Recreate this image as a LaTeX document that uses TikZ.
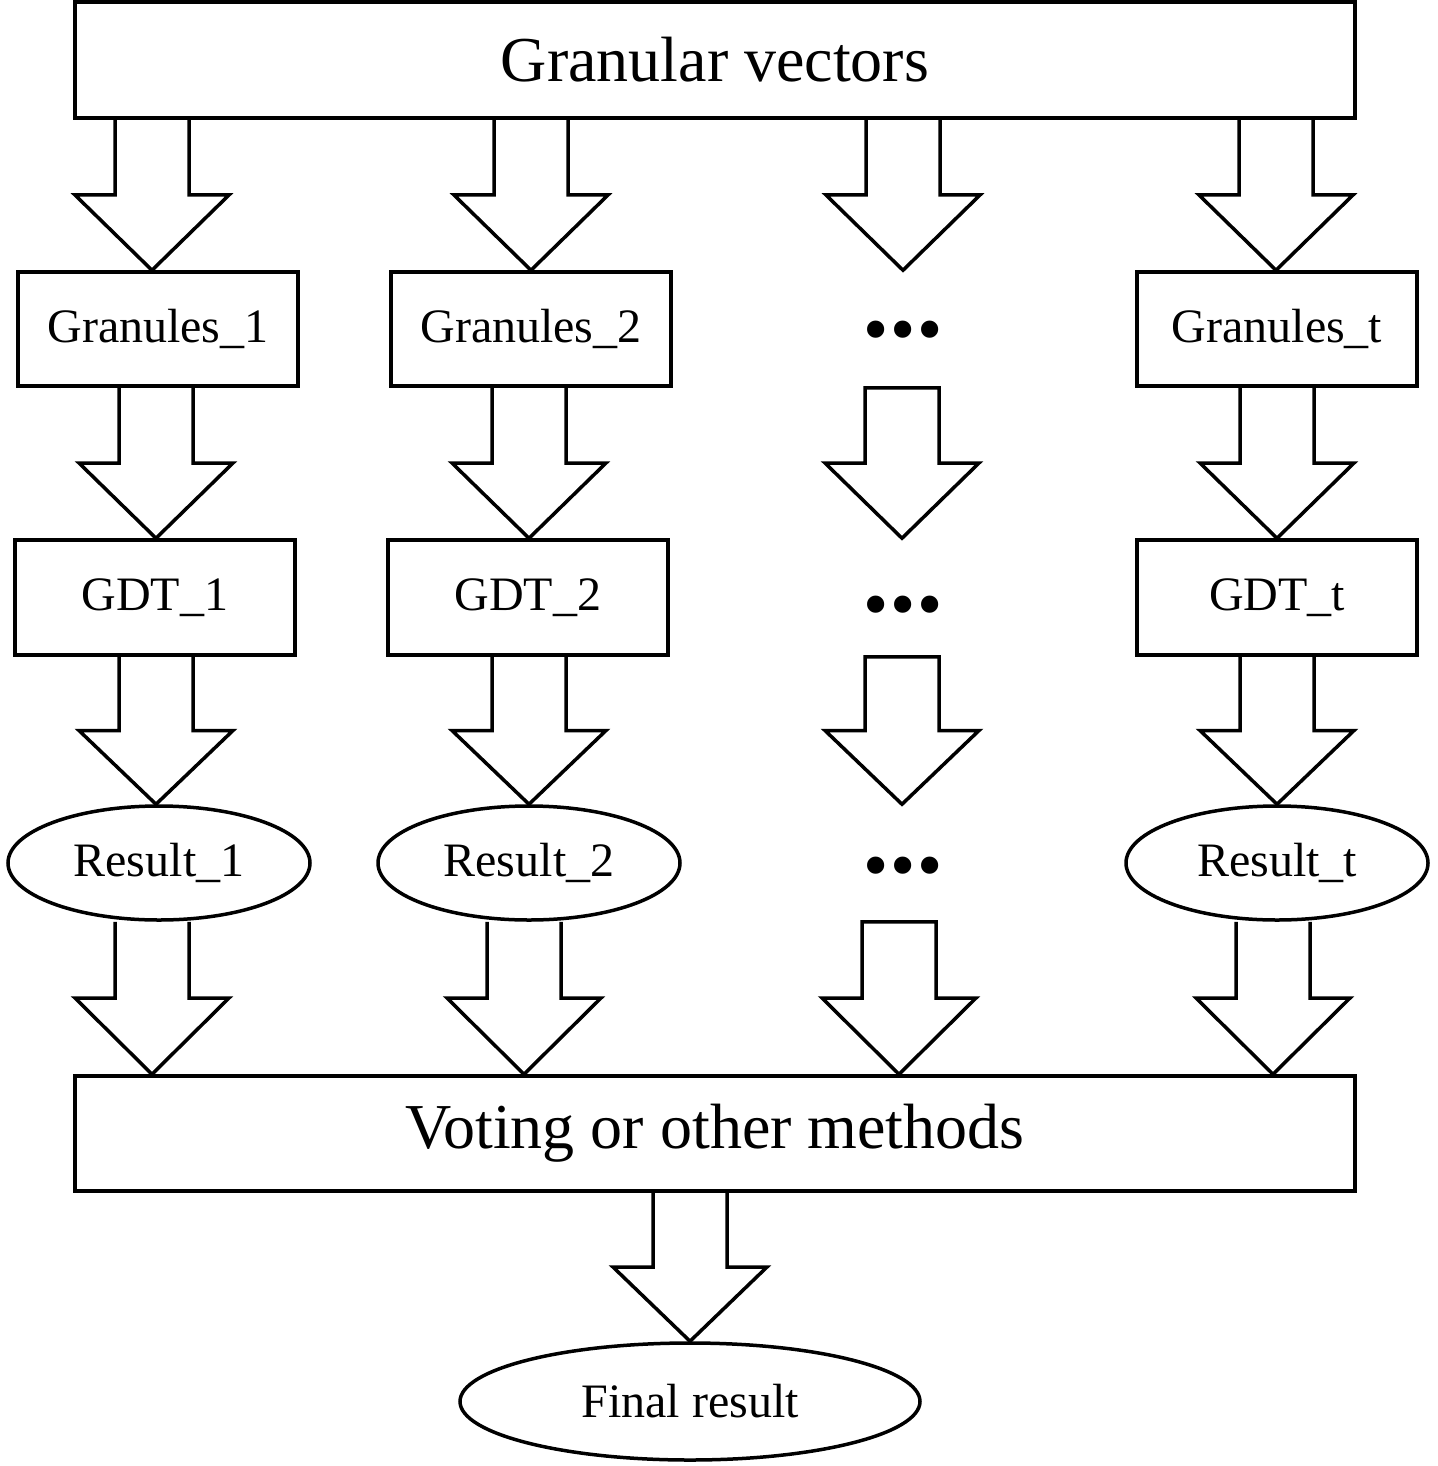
\documentclass[tikz,border=0pt]{standalone}
\usepackage{fontspec}
\setmainfont{Liberation Serif}
\usetikzlibrary{shapes.geometric,calc}
\tikzset{
  box/.style={draw, line width=3.5pt, rectangle, inner sep=0pt, font=\fontsize{48}{56}\selectfont, minimum width=280pt, minimum height=114pt},
  bigbox/.style={draw, line width=3.5pt, rectangle, inner sep=0pt, font=\fontsize{64}{72}\selectfont, minimum width=1280pt, minimum height=116pt},
  oval/.style={draw, line width=3.5pt, ellipse, inner sep=0pt, font=\fontsize{48}{56}\selectfont, minimum width=302pt, minimum height=114pt},
  barrow/.style={draw, line width=3.5pt, line join=miter},
  dotsnode/.style={inner sep=0pt, font=\fontsize{72}{80}\selectfont},
}
\newcommand\BA[3]{\draw[barrow] let \p1=(#2), \p2=(#3), \p3=($(\p1)!0.5!(\p2)$) in
  (#1pt-37pt,\y1) -- (#1pt-37pt,\y3) -- (#1pt-77pt,\y3) -- (#1pt,\y2) -- (#1pt+77pt,\y3) -- (#1pt+37pt,\y3) -- (#1pt+37pt,\y1);}
\newcommand\BAc[3]{\draw[barrow] let \p1=(#2), \p2=(#3), \p3=($(\p1)!0.5!(\p2)$) in
  (#1pt-37pt,\y1) -- (#1pt-37pt,\y3) -- (#1pt-77pt,\y3) -- (#1pt,\y2) -- (#1pt+77pt,\y3) -- (#1pt+37pt,\y3) -- (#1pt+37pt,\y1) -- cycle;}
\newcommand\threedots{\textbullet\hspace{2pt}\textbullet\hspace{2pt}\textbullet}
\begin{document}
\begin{tikzpicture}[x=1pt,y=-1pt]
\fill[white] (0,0) rectangle (1437,1466);
\useasboundingbox (0,0) rectangle (1437,1466);
% nodes
\node[bigbox] (top) at (715,60) {Granular vectors};
\node[box] (g1) at (158,329) {Granules\_1};
\node[box] (g2) at (531,329) {Granules\_2};
\node[dotsnode] (n1) at (903,337) {\threedots};
\node[box] (g4) at (1277,329) {Granules\_t};
\node[box, minimum height=115pt] (t1) at (155,597.5) {GDT\_1};
\node[box, minimum height=115pt] (t2) at (528,597.5) {GDT\_2};
\node[dotsnode] (n2) at (903,612) {\threedots};
\node[box, minimum height=115pt] (t4) at (1277,597.5) {GDT\_t};
\node[oval] (r1) at (159,863) {Result\_1};
\node[oval] (r2) at (529,863) {Result\_2};
\node[dotsnode] (n3) at (903,873) {\threedots};
\node[oval] (r4) at (1277,863) {Result\_t};
\node[bigbox, minimum height=115pt] (v) at (715,1133.5) {Voting or other methods};
\node[oval, minimum width=460pt, minimum height=117pt] (f) at (690,1401.5) {Final result};
% block arrows
\BA{152}{top.south}{g1.north}
\BA{531}{top.south}{g2.north}
\BA{903}{top.south}{g4.north}
\BA{1276}{top.south}{g4.north}
\BA{156}{g1.south}{t1.north}
\BA{529}{g2.south}{t2.north}
\BAc{902}{g4.south}{t4.north}
\BA{1277}{g4.south}{t4.north}
\BA{156}{t1.south}{r1.north}
\BA{529}{t2.south}{r2.north}
\BAc{902}{t4.south}{r4.north}
\BA{1277}{t4.south}{r4.north}
\BA{152}{r1.south}{v.north}
\BA{524}{r2.south}{v.north}
\BAc{899}{r4.south}{v.north}
\BA{1273}{r4.south}{v.north}
\BA{690}{v.south}{f.north}
\end{tikzpicture}
\end{document}
